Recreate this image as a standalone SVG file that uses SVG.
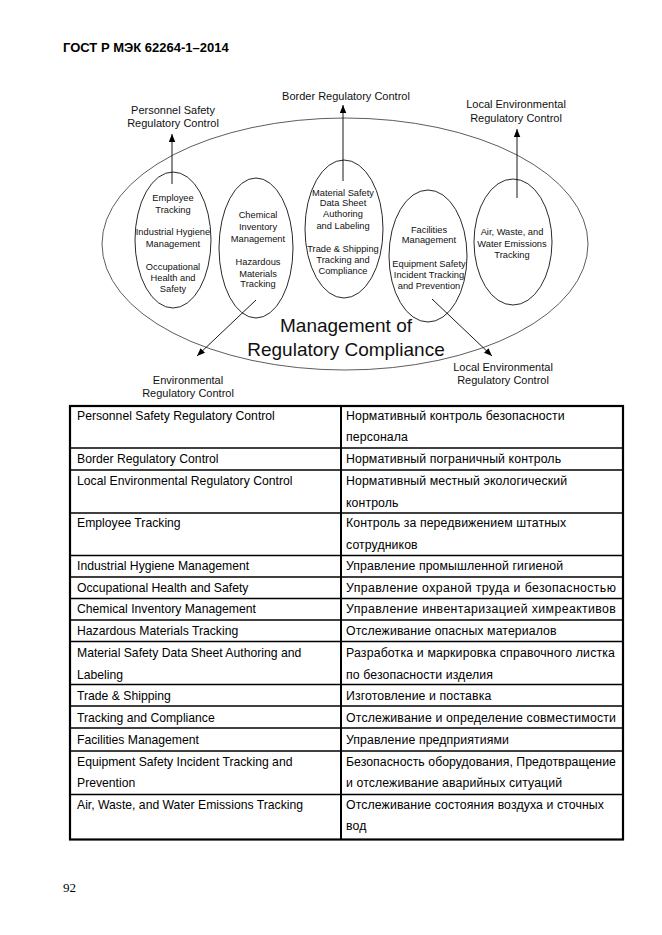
<svg xmlns="http://www.w3.org/2000/svg" width="662" height="935" viewBox="0 0 662 935">
<style>
.hdr{font-family:"Liberation Sans",Arial,sans-serif;font-weight:bold;font-size:13px;fill:#000}
.lbl{font-family:"Liberation Sans",Arial,sans-serif;font-size:11px;fill:#111;text-anchor:middle}
.in{font-family:"Liberation Sans",Arial,sans-serif;font-size:9.3px;fill:#111;text-anchor:middle}
.big{font-family:"Liberation Sans",Arial,sans-serif;font-size:19px;fill:#111;text-anchor:middle}
.tt{font-family:"Liberation Sans",Arial,sans-serif;font-size:12.2px;fill:#000}
.ru{font-size:12.3px;letter-spacing:0.1px}
.pg{font-family:"Liberation Serif","Times New Roman",serif;font-size:13px;fill:#000}
.el{fill:none;stroke:#111;stroke-width:0.9}
.outer{fill:none;stroke:#333;stroke-width:0.8}
.con{stroke:#000;stroke-width:0.9;fill:none}
.grid{stroke:#000;stroke-width:1.5}
.frame{fill:none;stroke:#000;stroke-width:2.2}
</style>
<defs>
<marker id="ah" markerUnits="userSpaceOnUse" markerWidth="9" markerHeight="7" refX="8" refY="3.25" orient="auto">
<path d="M0,0 L8,3.25 L0,6.5 z" fill="#000"/>
</marker>
</defs>
<rect width="662" height="935" fill="#fff"/>
<text class="hdr" x="63" y="52">ГОСТ Р МЭК 62264-1–2014</text>

<g id="management">
<ellipse class="outer" cx="345" cy="244" rx="243" ry="126"/>
<text class="big" x="346" y="332">Management of</text>
<text class="big" x="346" y="356">Regulatory Compliance</text>
</g>

<g id="node-employee">
<ellipse class="el" cx="173" cy="240" rx="38" ry="68"/>
<text class="in" x="173" y="201">Employee</text>
<text class="in" x="173" y="213">Tracking</text>
<text class="in" x="173" y="235">Industrial Hygiene</text>
<text class="in" x="173" y="247">Management</text>
<text class="in" x="173" y="270">Occupational</text>
<text class="in" x="173" y="281">Health and</text>
<text class="in" x="173" y="292">Safety</text>
</g>

<g id="node-chemical">
<ellipse class="el" cx="256" cy="248" rx="37" ry="70"/>
<text class="in" x="258" y="218">Chemical</text>
<text class="in" x="258" y="230">Inventory</text>
<text class="in" x="258" y="242">Management</text>
<text class="in" x="258" y="265">Hazardous</text>
<text class="in" x="258" y="277">Materials</text>
<text class="in" x="258" y="287">Tracking</text>
</g>

<g id="node-material">
<ellipse class="el" cx="344" cy="229" rx="39" ry="69"/>
<text class="in" x="343" y="196">Material Safety</text>
<text class="in" x="343" y="206">Data Sheet</text>
<text class="in" x="343" y="217">Authoring</text>
<text class="in" x="343" y="229">and Labeling</text>
<text class="in" x="343" y="252">Trade &amp; Shipping</text>
<text class="in" x="343" y="263">Tracking and</text>
<text class="in" x="343" y="274">Compliance</text>
</g>

<g id="node-facilities">
<ellipse class="el" cx="428" cy="256" rx="39" ry="66"/>
<text class="in" x="429" y="233">Facilities</text>
<text class="in" x="429" y="243">Management</text>
<text class="in" x="429" y="267">Equipment Safety</text>
<text class="in" x="429" y="278">Incident Tracking</text>
<text class="in" x="429" y="289">and Prevention</text>
</g>

<g id="node-air">
<ellipse class="el" cx="513" cy="242" rx="39" ry="63"/>
<text class="in" x="512" y="235">Air, Waste, and</text>
<text class="in" x="512" y="247">Water Emissions</text>
<text class="in" x="512" y="258">Tracking</text>
</g>

<g id="node-personnel-ctrl">
<text class="lbl" x="173" y="114">Personnel Safety</text>
<text class="lbl" x="173" y="127">Regulatory Control</text>
</g>
<g id="node-border-ctrl">
<text class="lbl" x="346" y="100">Border Regulatory Control</text>
</g>
<g id="node-local-ctrl-top">
<text class="lbl" x="516" y="108">Local Environmental</text>
<text class="lbl" x="516" y="122">Regulatory Control</text>
</g>
<g id="node-env-ctrl">
<text class="lbl" x="188" y="384">Environmental</text>
<text class="lbl" x="188" y="397">Regulatory Control</text>
</g>
<g id="node-local-ctrl-bottom">
<text class="lbl" x="503" y="371">Local Environmental</text>
<text class="lbl" x="503" y="384">Regulatory Control</text>
</g>

<g id="connectors">
<line class="con" x1="172" y1="184" x2="172" y2="134" marker-end="url(#ah)"/>
<line class="con" x1="343" y1="181" x2="343" y2="105" marker-end="url(#ah)"/>
<line class="con" x1="517" y1="198" x2="517" y2="129" marker-end="url(#ah)" stroke-width="1.3"/>
<line class="con" x1="256" y1="300" x2="197" y2="356" marker-end="url(#ah)"/>
<line class="con" x1="432" y1="299" x2="492" y2="356" marker-end="url(#ah)"/>
</g>

<g id="table">
<g class="grid">
<line x1="70" y1="448" x2="623" y2="448"/>
<line x1="70" y1="470" x2="623" y2="470"/>
<line x1="70" y1="513" x2="623" y2="513"/>
<line x1="70" y1="555.5" x2="623" y2="555.5"/>
<line x1="70" y1="577" x2="623" y2="577"/>
<line x1="70" y1="598.5" x2="623" y2="598.5"/>
<line x1="70" y1="620" x2="623" y2="620"/>
<line x1="70" y1="641.5" x2="623" y2="641.5"/>
<line x1="70" y1="684.5" x2="623" y2="684.5"/>
<line x1="70" y1="706" x2="623" y2="706"/>
<line x1="70" y1="728" x2="623" y2="728"/>
<line x1="70" y1="751" x2="623" y2="751"/>
<line x1="70" y1="794.5" x2="623" y2="794.5"/>
<line x1="341" y1="406" x2="341" y2="839.5" stroke-width="2"/>
</g>
<rect class="frame" x="70" y="406" width="553" height="433.5"/>
<g class="tt">
<text x="77" y="420">Personnel Safety Regulatory Control</text>
<text x="77" y="463">Border Regulatory Control</text>
<text x="77" y="485">Local Environmental Regulatory Control</text>
<text x="77" y="527">Employee Tracking</text>
<text x="77" y="570">Industrial Hygiene Management</text>
<text x="77" y="592">Occupational Health and Safety</text>
<text x="77" y="613">Chemical Inventory Management</text>
<text x="77" y="635">Hazardous Materials Tracking</text>
<text x="77" y="657">Material Safety Data Sheet Authoring and</text>
<text x="77" y="679">Labeling</text>
<text x="77" y="700">Trade &amp; Shipping</text>
<text x="77" y="722">Tracking and Compliance</text>
<text x="77" y="744">Facilities Management</text>
<text x="77" y="766">Equipment Safety Incident Tracking and</text>
<text x="77" y="787">Prevention</text>
<text x="77" y="809">Air, Waste, and Water Emissions Tracking</text>
</g>
<g class="tt ru">
<text x="346" y="420">Нормативный контроль безопасности</text>
<text x="346" y="441">персонала</text>
<text x="346" y="463">Нормативный пограничный контроль</text>
<text x="346" y="485">Нормативный местный экологический</text>
<text x="346" y="507">контроль</text>
<text x="346" y="527">Контроль за передвижением штатных</text>
<text x="346" y="549">сотрудников</text>
<text x="346" y="570">Управление промышленной гигиеной</text>
<text x="346" y="592" textLength="270">Управление охраной труда и безопасностью</text>
<text x="346" y="613" textLength="270">Управление инвентаризацией химреактивов</text>
<text x="346" y="635">Отслеживание опасных материалов</text>
<text x="346" y="657" textLength="269">Разработка и маркировка справочного листка</text>
<text x="346" y="679">по безопасности изделия</text>
<text x="346" y="700">Изготовление и поставка</text>
<text x="346" y="722" textLength="270">Отслеживание и определение совместимости</text>
<text x="346" y="744">Управление предприятиями</text>
<text x="346" y="766" textLength="270">Безопасность оборудования, Предотвращение</text>
<text x="346" y="787">и отслеживание аварийных ситуаций</text>
<text x="346" y="809">Отслеживание состояния воздуха и сточных</text>
<text x="346" y="830">вод</text>
</g>
</g>

<text class="pg" x="63" y="892">92</text>
</svg>
